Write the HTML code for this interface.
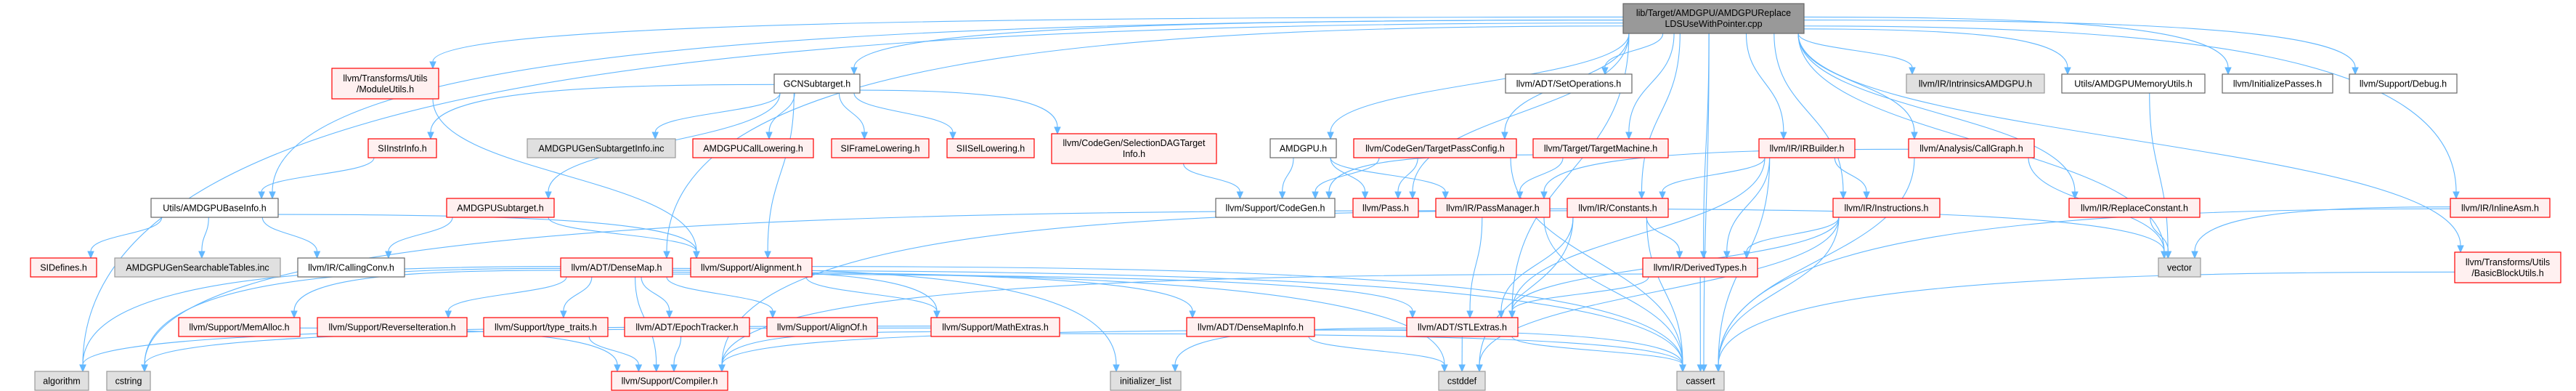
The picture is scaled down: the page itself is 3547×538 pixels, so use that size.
<!DOCTYPE html>
<html><head><meta charset="utf-8"><style>
html,body{margin:0;padding:0;background:#fff;}
svg{display:block;}
text{font-family:"Liberation Sans",sans-serif;font-size:12.5px;fill:#000;text-anchor:middle;}
.r rect{fill:#FFF0F0;stroke:#FF0000;stroke-width:1.2}
.g rect{fill:#E0E0E0;stroke:#999999;stroke-width:1.2}
.w rect{fill:#FFFFFF;stroke:#666666;stroke-width:1.2}
.k rect{fill:#999999;stroke:#666666;stroke-width:1.2}
</style></head><body>
<svg id="s" width="3547" height="538" viewBox="0 0 3547 538" xmlns="http://www.w3.org/2000/svg">
<g id="edges" fill="none" stroke="#63B8FF" stroke-width="1.1"></g>
<g id="arrows" fill="#63B8FF" stroke="#63B8FF"></g>
<g id="nodes">
<g class="k"><rect x="2235" y="5" width="249" height="41"/><text x="2359.5" y="22">lib/Target/AMDGPU/AMDGPUReplace</text><text x="2359.5" y="37">LDSUseWithPointer.cpp</text></g>
<g class="r"><rect x="457" y="94" width="147" height="42"/><text x="530.5" y="112">llvm/Transforms/Utils</text><text x="530.5" y="127">/ModuleUtils.h</text></g>
<g class="w"><rect x="1066" y="102" width="118" height="26"/><text x="1125" y="119.5">GCNSubtarget.h</text></g>
<g class="w"><rect x="2073" y="102" width="174" height="26"/><text x="2160" y="119.5">llvm/ADT/SetOperations.h</text></g>
<g class="g"><rect x="2625" y="102" width="190" height="26"/><text x="2720" y="119.5">llvm/IR/IntrinsicsAMDGPU.h</text></g>
<g class="w"><rect x="2839" y="102" width="197" height="26"/><text x="2937.5" y="119.5">Utils/AMDGPUMemoryUtils.h</text></g>
<g class="w"><rect x="3060" y="102" width="152" height="26"/><text x="3136" y="119.5">llvm/InitializePasses.h</text></g>
<g class="w"><rect x="3235" y="102" width="148" height="26"/><text x="3309" y="119.5">llvm/Support/Debug.h</text></g>
<g class="r"><rect x="507" y="191" width="94" height="26"/><text x="554" y="208.5">SIInstrInfo.h</text></g>
<g class="g"><rect x="726" y="191" width="204" height="26"/><text x="828" y="208.5">AMDGPUGenSubtargetInfo.inc</text></g>
<g class="r"><rect x="954" y="191" width="166" height="26"/><text x="1037" y="208.5">AMDGPUCallLowering.h</text></g>
<g class="r"><rect x="1145" y="191" width="134" height="26"/><text x="1212" y="208.5">SIFrameLowering.h</text></g>
<g class="r"><rect x="1304" y="191" width="120" height="26"/><text x="1364" y="208.5">SIISelLowering.h</text></g>
<g class="r"><rect x="1448" y="184" width="227" height="41"/><text x="1561.5" y="201">llvm/CodeGen/SelectionDAGTarget</text><text x="1561.5" y="216">Info.h</text></g>
<g class="w"><rect x="1749" y="191" width="91" height="26"/><text x="1794.5" y="208.5">AMDGPU.h</text></g>
<g class="r"><rect x="1864" y="191" width="224" height="26"/><text x="1976" y="208.5">llvm/CodeGen/TargetPassConfig.h</text></g>
<g class="r"><rect x="2111" y="191" width="186" height="26"/><text x="2204" y="208.5">llvm/Target/TargetMachine.h</text></g>
<g class="r"><rect x="2422" y="191" width="132" height="26"/><text x="2488" y="208.5">llvm/IR/IRBuilder.h</text></g>
<g class="r"><rect x="2628" y="191" width="173" height="26"/><text x="2714.5" y="208.5">llvm/Analysis/CallGraph.h</text></g>
<g class="w"><rect x="208" y="273" width="175" height="26"/><text x="295.5" y="290.5">Utils/AMDGPUBaseInfo.h</text></g>
<g class="r"><rect x="615" y="273" width="148" height="26"/><text x="689" y="290.5">AMDGPUSubtarget.h</text></g>
<g class="w"><rect x="1674" y="273" width="164" height="26"/><text x="1756" y="290.5">llvm/Support/CodeGen.h</text></g>
<g class="r"><rect x="1863" y="273" width="90" height="26"/><text x="1908" y="290.5">llvm/Pass.h</text></g>
<g class="r"><rect x="1977" y="273" width="157" height="26"/><text x="2055.5" y="290.5">llvm/IR/PassManager.h</text></g>
<g class="r"><rect x="2158" y="273" width="139" height="26"/><text x="2227.5" y="290.5">llvm/IR/Constants.h</text></g>
<g class="r"><rect x="2524" y="273" width="147" height="26"/><text x="2597.5" y="290.5">llvm/IR/Instructions.h</text></g>
<g class="r"><rect x="2849" y="273" width="180" height="26"/><text x="2939" y="290.5">llvm/IR/ReplaceConstant.h</text></g>
<g class="r"><rect x="3374" y="273" width="137" height="26"/><text x="3442.5" y="290.5">llvm/IR/InlineAsm.h</text></g>
<g class="r"><rect x="42" y="355" width="91" height="26"/><text x="87.5" y="372.5">SIDefines.h</text></g>
<g class="g"><rect x="158" y="355" width="228" height="26"/><text x="272" y="372.5">AMDGPUGenSearchableTables.inc</text></g>
<g class="w"><rect x="410" y="355" width="147" height="26"/><text x="483.5" y="372.5">llvm/IR/CallingConv.h</text></g>
<g class="r"><rect x="772" y="355" width="154" height="26"/><text x="849" y="372.5">llvm/ADT/DenseMap.h</text></g>
<g class="r"><rect x="951" y="355" width="167" height="26"/><text x="1034.5" y="372.5">llvm/Support/Alignment.h</text></g>
<g class="r"><rect x="2262" y="355" width="158" height="26"/><text x="2341" y="372.5">llvm/IR/DerivedTypes.h</text></g>
<g class="g"><rect x="2972" y="355" width="58" height="26"/><text x="3001" y="372.5">vector</text></g>
<g class="r"><rect x="3380" y="347" width="146" height="42"/><text x="3453" y="365">llvm/Transforms/Utils</text><text x="3453" y="380">/BasicBlockUtils.h</text></g>
<g class="r"><rect x="246" y="437" width="167" height="26"/><text x="329.5" y="454.5">llvm/Support/MemAlloc.h</text></g>
<g class="r"><rect x="437" y="437" width="206" height="26"/><text x="540" y="454.5">llvm/Support/ReverseIteration.h</text></g>
<g class="r"><rect x="666" y="437" width="171" height="26"/><text x="751.5" y="454.5">llvm/Support/type_traits.h</text></g>
<g class="r"><rect x="860" y="437" width="172" height="26"/><text x="946" y="454.5">llvm/ADT/EpochTracker.h</text></g>
<g class="r"><rect x="1056" y="437" width="152" height="26"/><text x="1132" y="454.5">llvm/Support/AlignOf.h</text></g>
<g class="r"><rect x="1282" y="437" width="177" height="26"/><text x="1370.5" y="454.5">llvm/Support/MathExtras.h</text></g>
<g class="r"><rect x="1634" y="437" width="176" height="26"/><text x="1722" y="454.5">llvm/ADT/DenseMapInfo.h</text></g>
<g class="r"><rect x="1937" y="437" width="153" height="26"/><text x="2013.5" y="454.5">llvm/ADT/STLExtras.h</text></g>
<g class="g"><rect x="48" y="511" width="74" height="26"/><text x="85" y="528.5">algorithm</text></g>
<g class="g"><rect x="147" y="511" width="60" height="26"/><text x="177" y="528.5">cstring</text></g>
<g class="r"><rect x="842" y="511" width="160" height="26"/><text x="922" y="528.5">llvm/Support/Compiler.h</text></g>
<g class="g"><rect x="1529" y="511" width="97" height="26"/><text x="1577.5" y="528.5">initializer_list</text></g>
<g class="g"><rect x="1981" y="511" width="64" height="26"/><text x="2013" y="528.5">cstddef</text></g>
<g class="g"><rect x="2309" y="511" width="65" height="26"/><text x="2341.5" y="528.5">cassert</text></g>
</g>
</svg>
<script>
var B={root:[2235,5,2484,46],MU:[457,94,604,136],GCN:[1066,102,1184,128],SO:[2073,102,2247,128],IN:[2625,102,2815,128],MEM:[2839,102,3036,128],IP:[3060,102,3212,128],DBG:[3235,102,3383,128],
SII:[507,191,601,217],GST:[726,191,930,217],CL:[954,191,1120,217],SF:[1145,191,1279,217],SIS:[1304,191,1424,217],SD:[1448,184,1675,225],AG:[1749,191,1840,217],TPC:[1864,191,2088,217],TM:[2111,191,2297,217],IRB:[2422,191,2554,217],CG:[2628,191,2801,217],
BI:[208,273,383,299],AS:[615,273,763,299],CGN:[1674,273,1838,299],P:[1863,273,1953,299],PM:[1977,273,2134,299],C:[2158,273,2297,299],I:[2524,273,2671,299],RC:[2849,273,3029,299],IA:[3374,273,3511,299],
SID:[42,355,133,381],ST:[158,355,386,381],CC:[410,355,557,381],DM:[772,355,926,381],AL:[951,355,1118,381],DT:[2262,355,2420,381],V:[2972,355,3030,381],BB:[3380,347,3526,389],
MA:[246,437,413,463],RI:[437,437,643,463],TT:[666,437,837,463],ET:[860,437,1032,463],AO:[1056,437,1208,463],ME:[1282,437,1459,463],DMI:[1634,437,1810,463],STL:[1937,437,2090,463],
ALG:[48,511,122,537],CS:[147,511,207,537],CO:[842,511,1002,537],IL:[1529,511,1626,537],CD:[1981,511,2045,537],CA:[2309,511,2374,537]};
var E="root:GCN root:SO root:IN root:MEM root:IP root:DBG root:AG root:TPC root:TM root:IRB root:CG root:RC root:IA root:BB root:C root:DT root:I root:P root:V root:MU root:BI root:ALG root:DM root:STL root:CA "+
"GCN:CL GCN:SF GCN:SIS GCN:SD GCN:GST GCN:SII GCN:AS GCN:AL MU:AL SII:BI BI:SID BI:ST BI:CC BI:AL AS:CC AS:AL SD:CGN AG:CGN AG:P AG:PM TPC:CGN TPC:P TPC:CA TM:CGN TM:PM "+
"IRB:C IRB:DT IRB:I IRB:STL IRB:CA CG:PM CG:V CG:CA PM:STL PM:CA PM:V PM:CS C:DT C:STL C:CA C:CD C:CO I:DT I:STL I:CA I:CD DT:STL DT:CA DT:CO IA:V IA:CA BB:CA MEM:V RC:V "+
"DM:ALG DM:CS DM:MA DM:RI DM:TT DM:ET DM:AO DM:ME DM:DMI DM:STL DM:CO DM:IL DM:CA DM:CD AL:ME AL:CA MA:CO TT:CO ME:CO ME:CA ME:ALG ME:CS DMI:CA DMI:CD STL:CA STL:CD STL:IL STL:CO ET:CO";
var eg=document.getElementById('edges'),ag=document.getElementById('arrows'),ns="http://www.w3.org/2000/svg";
function cl(v,a,b){return Math.max(a,Math.min(b,v));}
var k=0;
E.split(' ').forEach(function(p){var a=B[p.split(':')[0]],b=B[p.split(':')[1]];if(!a||!b)return;k++;
var sc=(a[0]+a[2])/2,tc=(b[0]+b[2])/2;
var tx=cl(tc+(sc-tc)*0.25,b[0]+8,b[2]-8),ty=b[1],ey=ty-9,d;
var dx=Math.abs(tc-sc),dy=ty-a[3];
if(dx>3*dy+200){
 var sx=tc<sc?a[0]:a[2],sy=a[1]+(a[3]-a[1])*(0.45+0.1*(k%5));
 var c1x=sx+(tx-sx)*0.55;
 d='M'+sx+','+sy+' C'+c1x+','+sy+' '+tx+','+(sy+(ey-sy)*0.15)+' '+tx+','+ey;
}else{
 var sx=cl(sc+(tc-sc)*0.35,a[0]+8,a[2]-8),sy=a[3],m=(sy+ey)/2;
 d='M'+sx+','+sy+' C'+sx+','+m+' '+tx+','+m+' '+tx+','+ey;
}
var pa=document.createElementNS(ns,'path');pa.setAttribute('d',d);eg.appendChild(pa);
var pg=document.createElementNS(ns,'polygon');
pg.setAttribute('points',(tx-4)+','+ey+' '+(tx+4)+','+ey+' '+tx+','+ty);ag.appendChild(pg);});
</script>
</body></html>
